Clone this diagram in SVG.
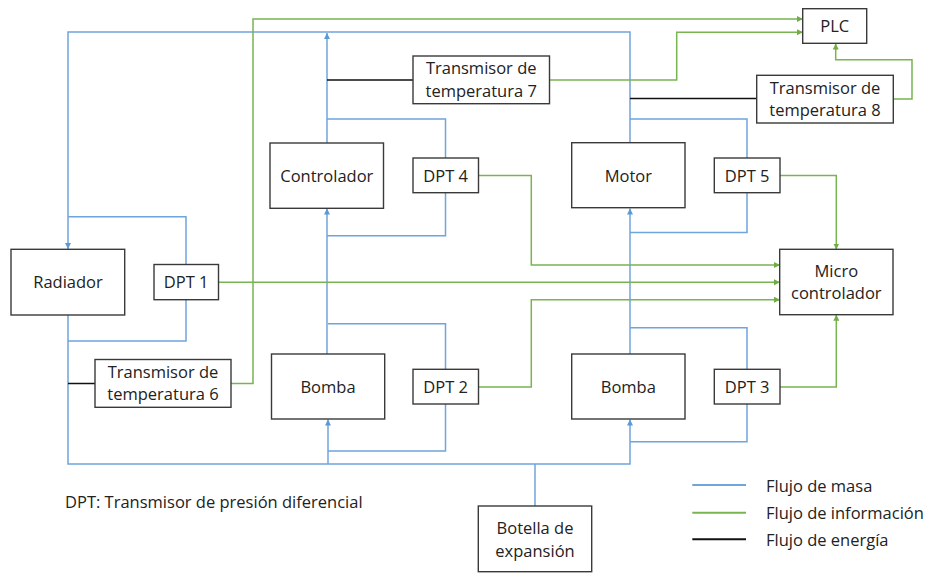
<svg xmlns="http://www.w3.org/2000/svg" width="931" height="573" viewBox="0 0 931 573">
<defs>
<style>
.box{fill:#fff;stroke:#3a3a3a;stroke-width:1.4}
.t{font-family:"Open Sans","Liberation Sans",Arial,sans-serif;font-size:16.5px;fill:#222;text-anchor:middle}
.lt{font-family:"Open Sans","Liberation Sans",Arial,sans-serif;font-size:16.5px;fill:#222}
.b{fill:none;stroke:#6fa4dc;stroke-width:1.5}
.g{fill:none;stroke:#78b451;stroke-width:1.5}
.k{fill:none;stroke:#111;stroke-width:1.3}
</style>
<marker id="ab" markerUnits="userSpaceOnUse" markerWidth="7" markerHeight="7" refX="6" refY="3" orient="auto"><path d="M0,0 L6,3 L0,6 z" fill="#5b9bd5"/></marker>
<marker id="ag" markerUnits="userSpaceOnUse" markerWidth="7" markerHeight="7" refX="6" refY="3" orient="auto"><path d="M0,0 L6,3 L0,6 z" fill="#70ad47"/></marker>
</defs>
<rect width="931" height="573" fill="#fff"/>
<g id="connectors">
<path class="b" d="M630,143 V32 H68 V249" marker-end="url(#ab)"/>
<path class="b" d="M327,143 V33" marker-end="url(#ab)"/>
<path class="b" d="M327,354 V208.5" marker-end="url(#ab)"/>
<path class="b" d="M630,354 V208.5" marker-end="url(#ab)"/>
<path class="b" d="M68,315 V464 H630 V419.5" marker-end="url(#ab)"/>
<path class="b" d="M328,464 V419.5" marker-end="url(#ab)"/>
<path class="b" d="M535,464 V506"/>
<path class="b" d="M68,216.7 H186 V264.5 M186,300 V341 H68"/>
<path class="b" d="M327,119 H445.5 V158 M445.5,193 V235.7 H327"/>
<path class="b" d="M630,119 H747 V158 M747,193 V232.5 H630"/>
<path class="b" d="M328,323.7 H445.5 V369.5 M445.5,404 V451 H328"/>
<path class="b" d="M630,327.7 H747 V369.5 M747,404 V441.7 H630"/>
<path class="k" d="M327,80 H413 M630,98.5 H757 M68,383.5 H95"/>
<path class="g" d="M231,383.5 H253 V19 H803" marker-end="url(#ag)"/>
<path class="g" d="M549.5,80 H676.7 V32.3 H803" marker-end="url(#ag)"/>
<path class="g" d="M893.5,99 H912 V59.7 H835.7 V43.5" marker-end="url(#ag)"/>
<path class="g" d="M218.5,282.3 H780" marker-end="url(#ag)"/>
<path class="g" d="M478.5,175.5 H531.3 V265 H780" marker-end="url(#ag)"/>
<path class="g" d="M478.5,387 H531.3 V299.7 H780" marker-end="url(#ag)"/>
<path class="g" d="M780,175.5 H836.3 V249.5" marker-end="url(#ag)"/>
<path class="g" d="M780,387 H836.3 V314.7" marker-end="url(#ag)"/>
</g>
<g id="radiador"><rect class="box" x="11" y="249.3" width="113.7" height="65.7"/><text class="t" x="68" y="288">Radiador</text></g>
<g id="dpt1"><rect class="box" x="154" y="264.5" width="64.5" height="35.2"/><text class="t" x="186.2" y="288">DPT 1</text></g>
<g id="tt6"><rect class="box" x="95" y="359.5" width="136" height="47.8"/><text class="t" x="163" y="377.8">Transmisor de</text><text class="t" x="163" y="400.3">temperatura 6</text></g>
<g id="controlador"><rect class="box" x="270" y="143" width="113.5" height="65.3"/><text class="t" x="326.8" y="181.5">Controlador</text></g>
<g id="dpt4"><rect class="box" x="413" y="158" width="65.5" height="34.7"/><text class="t" x="445.7" y="181.5">DPT 4</text></g>
<g id="tt7"><rect class="box" x="413" y="56" width="136.5" height="47.7"/><text class="t" x="481.2" y="74.3">Transmisor de</text><text class="t" x="481.2" y="96.8">temperatura 7</text></g>
<g id="bomba1"><rect class="box" x="271.5" y="354" width="113.2" height="65"/><text class="t" x="328" y="392.5">Bomba</text></g>
<g id="dpt2"><rect class="box" x="413" y="369.3" width="65.5" height="34.7"/><text class="t" x="445.7" y="392.8">DPT 2</text></g>
<g id="motor"><rect class="box" x="571.7" y="142.7" width="113.3" height="65"/><text class="t" x="628.3" y="181.5">Motor</text></g>
<g id="dpt5"><rect class="box" x="714.3" y="158" width="65.7" height="34.7"/><text class="t" x="747.2" y="181.5">DPT 5</text></g>
<g id="bomba2"><rect class="box" x="571.7" y="354" width="113.3" height="65"/><text class="t" x="628.3" y="392.5">Bomba</text></g>
<g id="dpt3"><rect class="box" x="714.3" y="369.3" width="65.7" height="34.7"/><text class="t" x="747.2" y="392.8">DPT 3</text></g>
<g id="micro"><rect class="box" x="779.7" y="249.3" width="113.3" height="65.4"/><text class="t" x="836.3" y="276.5">Micro</text><text class="t" x="836.3" y="299">controlador</text></g>
<g id="plc"><rect class="box" x="802.7" y="8.7" width="64" height="34.6"/><text class="t" x="834.7" y="32">PLC</text></g>
<g id="tt8"><rect class="box" x="756.7" y="75.3" width="136.6" height="47.7"/><text class="t" x="825" y="93.5">Transmisor de</text><text class="t" x="825" y="116">temperatura 8</text></g>
<g id="botella"><rect class="box" x="478.3" y="506" width="113.4" height="65.7"/><text class="t" x="535" y="534.3">Botella de</text><text class="t" x="535" y="556.8">expansión</text></g>
<g id="nota"><text class="lt" x="65" y="507.5">DPT: Transmisor de presión diferencial</text></g>
<g id="leyenda">
<line x1="692.3" y1="485" x2="746" y2="485" stroke="#6fa4dc" stroke-width="2"/>
<line x1="692.3" y1="512.7" x2="746" y2="512.7" stroke="#78b451" stroke-width="2"/>
<line x1="692.3" y1="539.3" x2="746" y2="539.3" stroke="#111" stroke-width="2"/>
<text class="lt" x="766" y="491.5">Flujo de masa</text>
<text class="lt" x="766" y="518.5">Flujo de información</text>
<text class="lt" x="766" y="546">Flujo de energía</text>
</g>
</svg>
